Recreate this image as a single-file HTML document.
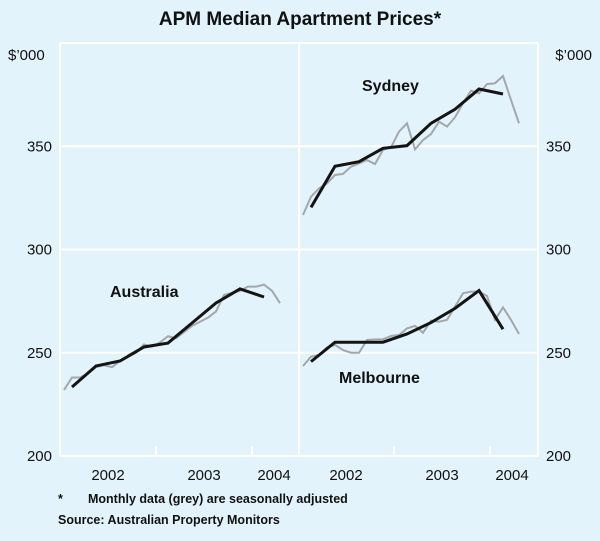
<!DOCTYPE html>
<html><head><meta charset="utf-8"><style>
html,body{margin:0;padding:0;background:#e3f3fc;}
svg{display:block;font-family:"Liberation Sans",Arial,sans-serif;}
</style></head><body>
<svg id="c" width="600" height="541" viewBox="0 0 600 541">
<rect x="0" y="0" width="600" height="541" fill="#e3f3fc"/>
<text x="300" y="25" text-anchor="middle" font-size="19" font-weight="bold" fill="#111">APM Median Apartment Prices*</text>
<text x="8" y="60" font-size="15" fill="#111">$’000</text>
<text x="592" y="60" text-anchor="end" font-size="15" fill="#111">$’000</text>
<g id="grid"></g>
<g id="series"></g>
<text x="110" y="297" font-size="16" font-weight="bold" fill="#111">Australia</text>
<text x="362" y="91" font-size="16" font-weight="bold" fill="#111">Sydney</text>
<text x="339" y="383" font-size="16" font-weight="bold" fill="#111">Melbourne</text>
<text x="58" y="503" font-size="12.5" font-weight="bold" fill="#111">*</text>
<text x="88" y="503" font-size="12.5" font-weight="bold" fill="#111">Monthly data (grey) are seasonally adjusted</text>
<text x="58" y="524" font-size="12.5" font-weight="bold" fill="#111">Source: Australian Property Monitors</text>
</svg>
<script>
const yTicks = [200, 250, 300, 350, 400];
const yTickLabels = ["200", "250", "300", "350", ""];
const yearLabels = ["2002", "2003", "2004"];
const ausMonthly = [232,238,238,240,243,244,243,246,248,250,254,253,255,258,257,260,263,265,267,270,278,279,280,282,282,283,280,274];
const ausQuarterly = [233.4,243.6,246,252.8,254.7,264.4,274.1,280.9,277];
const sydMonthly = [316.7,325.6,329.6,332.0,336.1,336.6,340.1,341.7,343.3,341.4,348.2,349.5,357.1,361.1,348.5,353.0,355.9,361.9,359.5,364.0,370.8,376.9,375.6,380.1,380.5,384.0,372.4,361.1];
const sydQuarterly = [320.4,340.3,342.5,349,350.3,361.1,367.9,377.7,375.3];
const melMonthly = [243.6,248.1,248.9,252.6,253.8,251.3,250.0,250.0,256.2,256.5,256.5,258.1,258.6,261.8,263.0,259.7,265.5,265.0,265.9,272.3,278.8,279.6,279.6,277.5,265.9,272.0,265.9,259.1];
const melQuarterly = [245.7,255.1,255.1,255.1,259.1,264.6,271.5,280.1,261.4];

const NS="http://www.w3.org/2000/svg";
const plotTop=43, plotBot=456, plotL=60, plotM=299, plotR=538;
const yScale = v => plotBot - (v-200)*(plotBot-plotTop)/200;
const xm = (p, i) => p + 4 + 8*i;
const xq = (p, i) => p + 12 + 24*i;
function mk(tag, attrs, parent){const e=document.createElementNS(NS,tag);for(const k in attrs)e.setAttribute(k,attrs[k]);parent.appendChild(e);return e;}
const gridG=document.getElementById('grid'), serG=document.getElementById('series');
yTicks.forEach((t,i)=>{
  const g=mk('line',{x1:plotL,x2:plotR,y1:yScale(t),y2:yScale(t),stroke:'#fff','stroke-width':2},gridG);
  
  
  if(yTickLabels[i]){
    const a=mk('text',{x:52,y:yScale(t)+5,'text-anchor':'end','font-size':15,fill:'#111'},gridG);a.textContent=yTickLabels[i];
    
    
    const b=mk('text',{x:546,y:yScale(t)+5,'font-size':15,fill:'#111'},gridG);b.textContent=yTickLabels[i];
    
    
  }
});
[plotL,plotM,plotR].forEach(x=>{const v=mk('line',{x1:x,x2:x,y1:plotTop,y2:plotBot,stroke:'#fff','stroke-width':2},gridG);
  
  });
[plotL+2,plotM+1].forEach((p)=>{
  yearLabels.forEach((lab,i)=>{
    if(i>0){const t=mk('line',{x1:p-2+96*i,x2:p-2+96*i,y1:plotBot,y2:plotBot-10,stroke:'#fff','stroke-width':2},gridG);
      
      }
    const cx = i<2 ? p-2+96*i+48 : p-2+96*i+22;
    const tx=mk('text',{x:cx,y:480,'text-anchor':'middle','font-size':15,fill:'#111'},gridG);tx.textContent=lab;
    
    
  });
});
function drawLine(data, xf, p, color, w, name){
  const pts=data.map((v,i)=>xf(p,i)+','+yScale(v)).join(' ');
  const e=mk('polyline',{points:pts,fill:'none',stroke:color,'stroke-width':w,'stroke-linejoin':'miter'},serG);
  
  
}
drawLine(ausMonthly,xm,plotL,'#a3a7ab',2,'australia-monthly-line');
drawLine(ausQuarterly,xq,plotL,'#141414',3,'australia-quarterly-line');
drawLine(sydMonthly,xm,plotM,'#a3a7ab',2,'sydney-monthly-line');
drawLine(sydQuarterly,xq,plotM,'#141414',3,'sydney-quarterly-line');
drawLine(melMonthly,xm,plotM,'#a3a7ab',2,'melbourne-monthly-line');
drawLine(melQuarterly,xq,plotM,'#141414',3,'melbourne-quarterly-line');
</script>
</body></html>
